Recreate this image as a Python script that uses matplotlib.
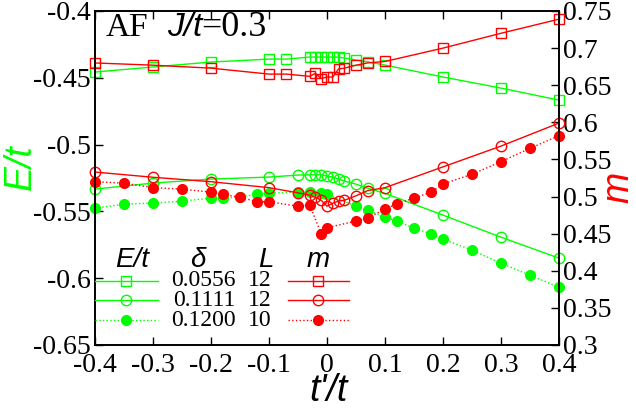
import matplotlib
matplotlib.use("Agg")
from matplotlib import pyplot as plt

# ---- data ----
# delta = 0.0556, L = 12 (open squares)
tp_sq = [-0.4, -0.3, -0.2, -0.1, -0.07, -0.03, -0.02, -0.01, 0.0, 0.01, 0.02, 0.03,
         0.05, 0.07, 0.1, 0.2, 0.3, 0.4]
E_sq = [-0.4457, -0.4419, -0.4382, -0.4360, -0.4360, -0.4345, -0.4345, -0.4345, -0.4345,
        -0.4345, -0.4345, -0.4352, -0.4367, -0.4380, -0.4405, -0.4494, -0.4577, -0.4667]
m_sq = [0.680, 0.677, 0.673, 0.665, 0.665, 0.662, 0.666, 0.659, 0.661, 0.661, 0.672,
        0.673, 0.677, 0.680, 0.682, 0.700, 0.720, 0.739]

# delta = 0.1111, L = 12 (open circles)
tp_ci = [-0.4, -0.3, -0.2, -0.1, -0.05, -0.03, -0.02, -0.01, 0.0, 0.01, 0.02, 0.03,
         0.05, 0.07, 0.1, 0.2, 0.3, 0.4]
E_ci = [-0.5333, -0.5288, -0.5258, -0.5243, -0.5228, -0.5226, -0.5226, -0.5226, -0.5236,
        -0.5243, -0.5258, -0.5273, -0.5296, -0.5326, -0.5365, -0.5528, -0.5693, -0.5850]
m_ci = [0.533, 0.526, 0.520, 0.512, 0.505, 0.502, 0.499, 0.495, 0.487, 0.491, 0.494,
        0.495, 0.501, 0.508, 0.512, 0.540, 0.568, 0.599]

# delta = 0.1200, L = 10 (filled circles)
tp_fc = [-0.4, -0.35, -0.3, -0.25, -0.2, -0.18, -0.15, -0.12, -0.1, -0.05, -0.03, -0.01,
         0.0, 0.05, 0.07, 0.1, 0.12, 0.15, 0.18, 0.2, 0.25, 0.3, 0.35, 0.4]
E_fc = [-0.5476, -0.5446, -0.5438, -0.5423, -0.5401, -0.5401, -0.5393, -0.5371, -0.5363,
        -0.5356, -0.5356, -0.5363, -0.5371, -0.5461, -0.5491, -0.5543, -0.5573, -0.5625,
        -0.5670, -0.5708, -0.5790, -0.5888, -0.5978, -0.6067]
m_fc = [0.520, 0.518, 0.512, 0.510, 0.506, 0.503, 0.499, 0.493, 0.493, 0.487, 0.489,
        0.450, 0.458, 0.467, 0.471, 0.483, 0.490, 0.498, 0.506, 0.517, 0.530, 0.547,
        0.565, 0.582]

legend_delta = ["0.0556", "0.1111", "0.1200"]
legend_L = ["12", "12", "10"]

GREEN = "#00ff00"
RED = "#ff0000"
SERIF = "Liberation Serif"
SANS = "Liberation Sans"

W, H = 636, 409
fig = plt.figure(figsize=(W / 100, H / 100), dpi=100)
ax = fig.add_axes([95 / W, 1 - 345 / H, (559 - 95) / W, (345 - 11) / H])
ax2 = ax.twinx()

styles = [
    dict(marker="s", ls="-", mfc="none", ms=7.5),
    dict(marker="o", ls="-", mfc="none", ms=7.5),
    dict(marker="o", ls=":", mfc=None, ms=7),
]
series = [(tp_sq, E_sq, m_sq), (tp_ci, E_ci, m_ci), (tp_fc, E_fc, m_fc)]
for (tp, E, m), st in zip(series, styles):
    for a, y, c in ((ax, E, GREEN), (ax2, m, RED)):
        kw = dict(st)
        if kw["mfc"] is None:
            kw["mfc"] = c
        a.plot(tp, y, color=c, mec=c, lw=1, mew=1, clip_on=False, **kw)

ax.set_xlim(-0.4, 0.4)
ax.set_ylim(-0.65, -0.4)
ax2.set_ylim(0.3, 0.75)
ax.set_xticks([-0.4, -0.3, -0.2, -0.1, 0, 0.1, 0.2, 0.3, 0.4])
ax.set_xticklabels(["-0.4", "-0.3", "-0.2", "-0.1", "0", "0.1", "0.2", "0.3", "0.4"])
ax.set_yticks([-0.65, -0.6, -0.55, -0.5, -0.45, -0.4])
ax.set_yticklabels(["-0.65", "-0.6", "-0.55", "-0.5", "-0.45", "-0.4"])
ax2.set_yticks([0.3, 0.35, 0.4, 0.45, 0.5, 0.55, 0.6, 0.65, 0.7, 0.75])
ax2.set_yticklabels(["0.3", "0.35", "0.4", "0.45", "0.5", "0.55", "0.6", "0.65", "0.7", "0.75"])

ax.tick_params(axis="x", direction="in", top=True, length=6, width=1, pad=6)
ax.tick_params(axis="y", direction="in", length=6, width=1, pad=3)
ax2.tick_params(axis="y", direction="in", length=6, width=1, pad=3)
for a in (ax, ax2):
    for lab in a.get_xticklabels() + a.get_yticklabels():
        lab.set_fontfamily(SERIF)
        lab.set_fontsize(20)
    for s in a.spines.values():
        s.set_linewidth(1.2)


def fx(x):
    return x / W


def fy(y):
    return 1 - y / H


# axis labels
fig.text(fx(328), fy(401), "t'/t", fontfamily=SANS, style="italic", fontsize=27,
         ha="center", va="baseline")
fig.text(fx(21), fy(167), "E/t", fontfamily=SANS, style="italic", fontsize=27,
         color=GREEN, rotation=90, ha="center", va="center")
fig.text(fx(618), fy(187), "m", fontfamily=SANS, style="italic", fontsize=27,
         color=RED, rotation=90, ha="center", va="center")

# title inside the plot
fig.text(fx(106), fy(36), "AF", fontfamily=SERIF, fontsize=24, va="baseline")
fig.text(fx(167), fy(36), "J/t", fontfamily=SANS, style="italic", fontsize=24,
         va="baseline")
fig.text(fx(201), fy(36), "=0.3", fontfamily=SERIF, fontsize=26, va="baseline")

# hand-built legend
hy = 260
fig.text(fx(132), fy(hy), "E/t", fontfamily=SANS, style="italic", fontsize=20,
         ha="center", va="center")
fig.text(fx(198), fy(hy), "\u03b4", fontfamily=SANS, style="italic", fontsize=20,
         ha="center", va="center")
fig.text(fx(266), fy(hy), "L", fontfamily=SANS, style="italic", fontsize=20,
         ha="center", va="center")
fig.text(fx(318), fy(hy), "m", fontfamily=SANS, style="italic", fontsize=20,
         ha="center", va="center")
rows_y = [281, 300, 320]
for i, st in enumerate(styles):
    y = fy(rows_y[i])
    for x0, x1, c in ((95, 158, GREEN), (288, 349, RED)):
        kw = dict(st)
        if kw["mfc"] is None:
            kw["mfc"] = c
        fig.add_artist(plt.Line2D([fx(x0), fx(x1)], [y, y], color=c, lw=1,
                                  ls=st["ls"], transform=fig.transFigure))
        fig.add_artist(plt.Line2D([fx((x0 + x1) / 2 - 1)], [y], color=c, marker=st["marker"],
                                  mfc=kw["mfc"], mec=c, ms=st["ms"], mew=1, ls="none",
                                  transform=fig.transFigure))
    fig.text(fx(236), y, legend_delta[i], fontfamily=SERIF, fontsize=17, ha="right",
             va="center")
    fig.text(fx(272), y, legend_L[i], fontfamily=SERIF, fontsize=17, ha="right",
             va="center")

fig.savefig("out.png", dpi=100)
plt.close(fig)
